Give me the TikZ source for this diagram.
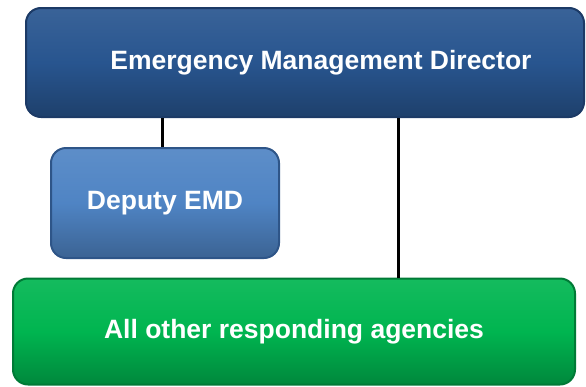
\documentclass[tikz,border=0pt]{standalone}
\usepackage{fontspec}
\setmainfont{Liberation Sans}
\definecolor{emdblue}{HTML}{28558F}
\definecolor{emdedge}{HTML}{1C3A66}
\definecolor{depblue}{HTML}{4F84C4}
\definecolor{depedge}{HTML}{2E5588}
\definecolor{aggreen}{HTML}{00B550}
\definecolor{agedge}{HTML}{007A36}

\begin{document}
\begin{tikzpicture}[x=1pt,y=-1pt,line width=3pt,
                    org box/.style={rectangle,rounded corners=15pt,line width=2pt,
                      text=white,font=\fontsize{26.5}{30}\selectfont\bfseries,
                      inner sep=0pt,align=center}]
  \useasboundingbox (0,0) rectangle (586,386);
  \node[org box,draw=emdedge,top color=emdblue!92!white,bottom color=emdblue!75!black,middle color=emdblue,
        minimum width=558pt,minimum height=109pt] (director) at (305,62.5) {\hspace*{32pt}Emergency Management Director};
  \node[org box,draw=depedge,top color=depblue!92!white,bottom color=depblue!75!black,middle color=depblue,
        minimum width=228pt,minimum height=110pt] (deputy) at (165,203) {Deputy EMD};
  \node[org box,draw=agedge,top color=aggreen!92!white,bottom color=aggreen!75!black,middle color=aggreen,
        minimum width=562pt,minimum height=106pt] (agencies) at (294,331.5) {All other responding agencies};
  \draw ([xshift=-3pt]deputy.north) -- ([xshift=-3pt]deputy.north |- director.south);
  \draw ([xshift=93pt]director.south) -- ([xshift=93pt]director.south |- agencies.north);
\end{tikzpicture}
\end{document}
